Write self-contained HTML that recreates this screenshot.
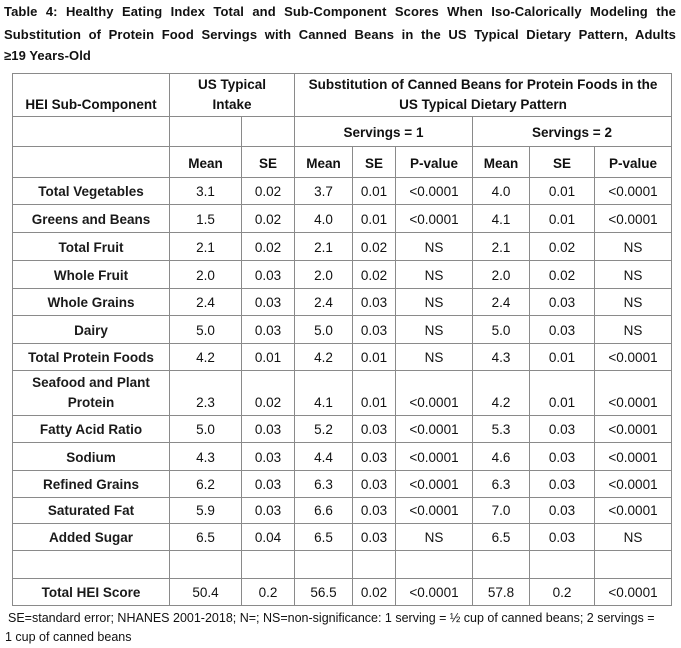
<!DOCTYPE html>
<html><head><meta charset="utf-8"><style>
body{margin:0;background:#fff;width:681px;height:648px;overflow:hidden;font-family:"Liberation Sans",Arial,sans-serif;color:#111;position:relative}
.t{position:absolute;left:4px;width:672px;font-weight:bold;font-size:13px;text-align:justify;text-align-last:justify;white-space:nowrap;letter-spacing:0.1px}
table{position:absolute;left:12px;top:73px;border-collapse:collapse;table-layout:fixed}
td{border:1px solid #8a8a8a;text-align:center;vertical-align:bottom;padding:0 0 2px 0;font-size:13.5px;line-height:20px}
td.l{font-weight:bold;color:#1a1a1a}
.h td{font-weight:bold;padding-bottom:3px}
.f{position:absolute;left:12px;font-size:12.5px;white-space:nowrap}
</style></head><body>
<div class="t" style="top:4px">Table 4: Healthy Eating Index Total and Sub-Component Scores When Iso-Calorically Modeling the</div>
<div class="t" style="top:27px">Substitution of Protein Food Servings with Canned Beans in the US Typical Dietary Pattern, Adults</div>
<div class="t" style="top:48px;text-align-last:left">≥19 Years-Old</div>
<table>
<colgroup><col style="width:157px"><col style="width:72px"><col style="width:53px"><col style="width:58px"><col style="width:43px"><col style="width:77px"><col style="width:57px"><col style="width:65px"><col style="width:77px"></colgroup>
<tr class="h" style="height:43px"><td style="padding-bottom:1px">HEI Sub-Component</td><td colspan="2" style="padding-bottom:1px">US Typical<br>Intake</td><td colspan="6" style="padding-bottom:1px">Substitution of Canned Beans for Protein Foods in the<br>US Typical Dietary Pattern</td></tr>
<tr class="h" style="height:30px"><td></td><td></td><td></td><td colspan="3">Servings = 1</td><td colspan="3">Servings = 2</td></tr>
<tr class="h" style="height:31px"><td></td><td>Mean</td><td>SE</td><td>Mean</td><td>SE</td><td>P-value</td><td>Mean</td><td>SE</td><td>P-value</td></tr>
<tr style="height:27px"><td class="l">Total Vegetables</td><td>3.1</td><td>0.02</td><td>3.7</td><td>0.01</td><td>&lt;0.0001</td><td>4.0</td><td>0.01</td><td>&lt;0.0001</td></tr>
<tr style="height:28px"><td class="l">Greens and Beans</td><td>1.5</td><td>0.02</td><td>4.0</td><td>0.01</td><td>&lt;0.0001</td><td>4.1</td><td>0.01</td><td>&lt;0.0001</td></tr>
<tr style="height:28px"><td class="l">Total Fruit</td><td>2.1</td><td>0.02</td><td>2.1</td><td>0.02</td><td>NS</td><td>2.1</td><td>0.02</td><td>NS</td></tr>
<tr style="height:28px"><td class="l">Whole Fruit</td><td>2.0</td><td>0.03</td><td>2.0</td><td>0.02</td><td>NS</td><td>2.0</td><td>0.02</td><td>NS</td></tr>
<tr style="height:27px"><td class="l">Whole Grains</td><td>2.4</td><td>0.03</td><td>2.4</td><td>0.03</td><td>NS</td><td>2.4</td><td>0.03</td><td>NS</td></tr>
<tr style="height:28px"><td class="l">Dairy</td><td>5.0</td><td>0.03</td><td>5.0</td><td>0.03</td><td>NS</td><td>5.0</td><td>0.03</td><td>NS</td></tr>
<tr style="height:27px"><td class="l">Total Protein Foods</td><td>4.2</td><td>0.01</td><td>4.2</td><td>0.01</td><td>NS</td><td>4.3</td><td>0.01</td><td>&lt;0.0001</td></tr>
<tr style="height:45px"><td class="l">Seafood and Plant<br>Protein</td><td>2.3</td><td>0.02</td><td>4.1</td><td>0.01</td><td>&lt;0.0001</td><td>4.2</td><td>0.01</td><td>&lt;0.0001</td></tr>
<tr style="height:27px"><td class="l">Fatty Acid Ratio</td><td>5.0</td><td>0.03</td><td>5.2</td><td>0.03</td><td>&lt;0.0001</td><td>5.3</td><td>0.03</td><td>&lt;0.0001</td></tr>
<tr style="height:28px"><td class="l">Sodium</td><td>4.3</td><td>0.03</td><td>4.4</td><td>0.03</td><td>&lt;0.0001</td><td>4.6</td><td>0.03</td><td>&lt;0.0001</td></tr>
<tr style="height:27px"><td class="l">Refined Grains</td><td>6.2</td><td>0.03</td><td>6.3</td><td>0.03</td><td>&lt;0.0001</td><td>6.3</td><td>0.03</td><td>&lt;0.0001</td></tr>
<tr style="height:26px"><td class="l">Saturated Fat</td><td>5.9</td><td>0.03</td><td>6.6</td><td>0.03</td><td>&lt;0.0001</td><td>7.0</td><td>0.03</td><td>&lt;0.0001</td></tr>
<tr style="height:27px"><td class="l">Added Sugar</td><td>6.5</td><td>0.04</td><td>6.5</td><td>0.03</td><td>NS</td><td>6.5</td><td>0.03</td><td>NS</td></tr>
<tr style="height:28px"><td></td><td></td><td></td><td></td><td></td><td></td><td></td><td></td><td></td></tr>
<tr style="height:27px"><td class="l">Total HEI Score</td><td>50.4</td><td>0.2</td><td>56.5</td><td>0.02</td><td>&lt;0.0001</td><td>57.8</td><td>0.2</td><td>&lt;0.0001</td></tr>
</table>
<div class="f" style="top:611px;left:8px">SE=standard error; NHANES 2001-2018; N=; NS=non-significance: 1 serving = ½ cup of canned beans; 2 servings =</div>
<div class="f" style="top:630px;left:5px">1 cup of canned beans</div>
</body></html>
